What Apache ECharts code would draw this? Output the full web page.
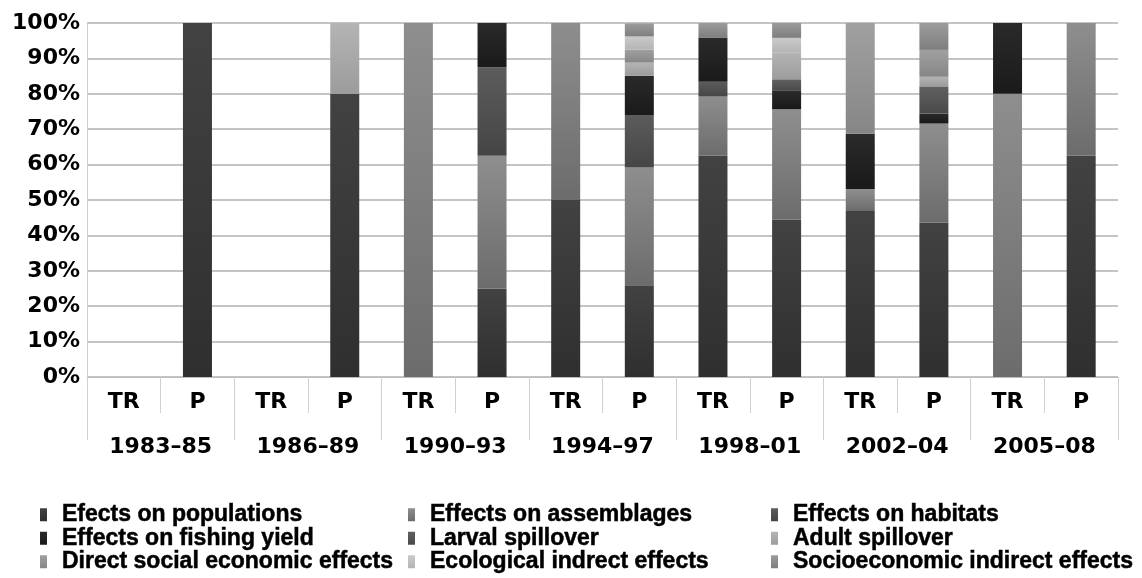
<!DOCTYPE html>
<html>
<head>
<meta charset="utf-8">
<script src="https://cdn.jsdelivr.net/npm/echarts@6/dist/echarts.min.js"></script>
<style>html,body{margin:0;padding:0;background:#fff}#c{width:1142px;height:578px}</style>
</head>
<body>
<div id="c"></div>
<script>
const categories = ['TR','P','TR','P','TR','P','TR','P','TR','P','TR','P','TR','P'];
const groups = ['1983–85','1986–89','1990–93','1994–97','1998–01','2002–04','2005–08'];
const yTicks = [0,10,20,30,40,50,60,70,80,90,100];

const seriesNames = [
  'Efects on populations','Effects on assemblages','Effects on habitats',
  'Effects on fishing yield','Larval spillover','Adult spillover',
  'Direct social economic effects','Ecological indrect effects','Socioeconomic indirect effects'
];
const populations   = [0,100,0,80,0,25,50,25.9,62.5,44.4,46.9,43.6,0,62.5];
const assemblages   = [0,0,0,0,100,37.5,50,33.3,16.7,31.2,6.2,28.0,80,37.5];
const habitats      = [0,0,0,0,0,25,0,14.8,4.2,0,0,0,0,0];
const fishingYield  = [0,0,0,0,0,12.5,0,11.1,12.5,5.4,15.6,2.8,20,0];
const larval        = [0,0,0,0,0,0,0,0,0,3.1,0,7.7,0,0];
const adult         = [0,0,0,20,0,0,0,3.7,0,7.5,0,2.7,0,0];
const directSocial  = [0,0,0,0,0,0,0,3.7,0,0,31.3,7.6,0,0];
const ecological    = [0,0,0,0,0,0,0,3.7,0,4.2,0,0,0,0];
const socioIndirect = [0,0,0,0,0,0,0,3.7,4.1,4.2,0,7.6,0,0];
const seriesValues = [populations,assemblages,habitats,fishingYield,larval,adult,directSocial,ecological,socioIndirect];

const colorPairs = [
  ['#424242','#2f2f2f'],
  ['#8e8e8e','#6c6c6c'],
  ['#5c5c5c','#454545'],
  ['#2a2a2a','#1a1a1a'],
  ['#606060','#4a4a4a'],
  ['#b4b4b4','#9c9c9c'],
  ['#a0a0a0','#868686'],
  ['#cacaca','#b4b4b4'],
  ['#9c9c9c','#7e7e7e']
];
function grad(p){
  return new echarts.graphic.LinearGradient(0,0,0,1,[{offset:0,color:p[0]},{offset:1,color:p[1]}]);
}

const chart = echarts.init(document.getElementById('c'));
const axisFont = {fontFamily:'DejaVu Sans', fontWeight:'bold', fontSize:22, color:'#000'};
const legendBase = {
  orient:'vertical', top:503, height:150, padding:0, itemWidth:7, itemHeight:13, itemGap:0, icon:'rect',
  selectedMode:false,
  textStyle:{fontFamily:'Liberation Sans', fontWeight:'bold', fontSize:23, color:'#000', lineHeight:22,
    textBorderColor:'#000', textBorderWidth:0.5, padding:[0,0,0,10]}
};
const option = {
  animation:false,
  backgroundColor:'#fff',
  grid:{left:87, right:24, top:23, bottom:201, containLabel:false},
  legend:[
    Object.assign({left:40, data:[seriesNames[0],seriesNames[3],seriesNames[6]]}, legendBase),
    Object.assign({left:408, data:[seriesNames[1],seriesNames[4],seriesNames[7]]}, legendBase),
    Object.assign({left:771, data:[seriesNames[2],seriesNames[5],seriesNames[8]]}, legendBase)
  ],
  xAxis:[
    {type:'category', data:categories, position:'bottom', offset:0,
     axisLine:{show:true, lineStyle:{color:'#bdbdbd', width:1}},
     axisTick:{show:true, interval:0, length:36, lineStyle:{color:'#d0d0d0'}},
     axisLabel:Object.assign({interval:0, margin:14}, axisFont),
     splitLine:{show:false}},
    {type:'category', data:groups, position:'bottom', offset:0,
     axisLine:{show:false},
     axisTick:{show:true, interval:0, length:63, lineStyle:{color:'#d0d0d0'}},
     axisLabel:Object.assign({interval:0, margin:59}, axisFont),
     splitLine:{show:false}}
  ],
  yAxis:{type:'value', min:yTicks[0], max:yTicks[yTicks.length-1], interval:yTicks[1]-yTicks[0],
    axisLine:{show:true, lineStyle:{color:'#cfcfcf'}},
    axisTick:{show:false},
    axisLabel:Object.assign({margin:7, formatter:'{value}%'}, axisFont),
    splitLine:{show:true, lineStyle:{color:'#b0b0b0', width:1.5}}},
  series: seriesNames.map((n,i)=>({
    name:n, type:'bar', stack:'total', xAxisIndex:0, barWidth:29,
    data:seriesValues[i],
    itemStyle:{color:grad(colorPairs[i])},
    emphasis:{disabled:true}
  }))
};
chart.setOption(option);
</script>
</body>
</html>
